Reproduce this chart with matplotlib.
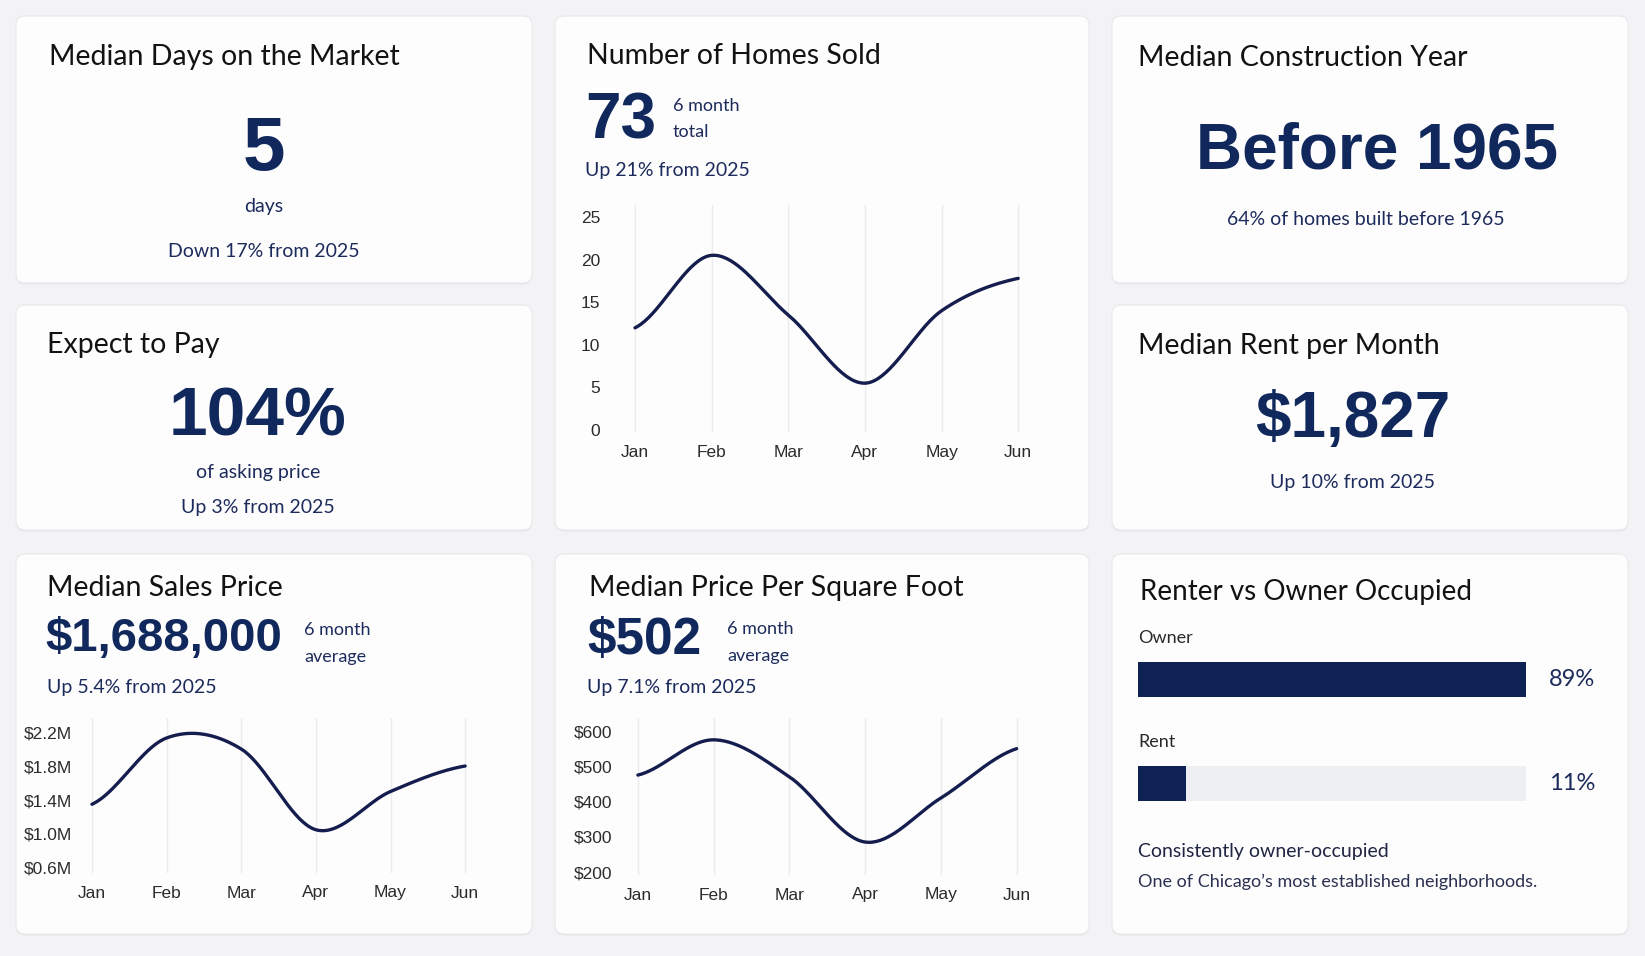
import numpy as np
import matplotlib
matplotlib.use("Agg")
from matplotlib import pyplot as plt
from matplotlib.patches import FancyBboxPatch

# ---- data ----
months = ["Jan", "Feb", "Mar", "Apr", "May", "Jun"]
homes_sold = [12, 20.5, 13.5, 5.5, 14, 17.8]
homes_ticks = [0, 5, 10, 15, 20, 25]
sales_price_m = [1.35, 2.13, 2.0, 1.05, 1.5, 1.8]
sales_ticks = [0.6, 1.0, 1.4, 1.8, 2.2]
price_sqft = [475, 575, 470, 285, 410, 550]
sqft_ticks = [200, 300, 400, 500, 600]
occ_labels = ["Owner", "Rent"]
occ_pct = [89, 11]

W, H = 1645, 956
NAVY = "#10285c"
SUB = "#1d2b5c"
LINE = "#141d4d"
TITLE = "#121212"
TICK = "#2b2b2b"
BODY = "Lato"
NUM = "Liberation Sans"

fig = plt.figure(figsize=(W / 100, H / 100), dpi=100)
fig.patch.set_facecolor("#f3f3f5")

bg = fig.add_axes([0, 0, 1, 1])
bg.set_xlim(0, W)
bg.set_ylim(H, 0)
bg.axis("off")


def card(x0, y0, x1, y1):
    sh = FancyBboxPatch((x0, y0 + 1.5), x1 - x0, y1 - y0,
                        boxstyle="round,pad=0,rounding_size=9",
                        fc="#000000", ec="none", alpha=0.05, zorder=1)
    bg.add_patch(sh)
    p = FancyBboxPatch((x0, y0), x1 - x0, y1 - y0,
                       boxstyle="round,pad=0,rounding_size=9",
                       fc="#fdfdfd", ec="#e9e9ec", lw=0.8, zorder=2)
    bg.add_patch(p)


def txt(x, y, s, size, color=SUB, ha="left", weight="normal", family=BODY):
    bg.text(x, y, s, fontsize=size, color=color, ha=ha, va="center",
            fontweight=weight, family=family, zorder=5)


def px_axes(left, top, right, bottom):
    return fig.add_axes([left / W, 1 - bottom / H, (right - left) / W, (bottom - top) / H])


def smooth(xs, ys, n=40):
    # catmull-rom through the points, only for drawing
    xs = np.asarray(xs, float)
    ys = np.asarray(ys, float)
    px, py = [], []
    for i in range(len(xs) - 1):
        y0 = ys[max(i - 1, 0)]
        y1, y2 = ys[i], ys[i + 1]
        y3 = ys[min(i + 2, len(ys) - 1)]
        t = np.linspace(0, 1, n, endpoint=False)
        seg = 0.5 * ((2 * y1) + (-y0 + y2) * t + (2 * y0 - 5 * y1 + 4 * y2 - y3) * t ** 2
                     + (-y0 + 3 * y1 - 3 * y2 + y3) * t ** 3)
        px.append(xs[i] + t * (xs[i + 1] - xs[i]))
        py.append(seg)
    px.append([xs[-1]])
    py.append([ys[-1]])
    return np.concatenate(px), np.concatenate(py)


def line_chart(ax, values, ticks, fmt, xlim, ylim, ypad):
    x = np.arange(len(values))
    sx, sy = smooth(x, values)
    ax.plot(sx, sy, color=LINE, lw=2.4, solid_capstyle="round", zorder=3)
    ax.set_xlim(*xlim)
    ax.set_ylim(*ylim)
    ax.set_xticks(x)
    ax.set_xticklabels(months)
    ax.set_yticks(ticks)
    ax.set_yticklabels([fmt(t) for t in ticks])
    ax.grid(axis="x", color="#ebebee", lw=1)
    ax.set_axisbelow(True)
    for s in ax.spines.values():
        s.set_visible(False)
    ax.tick_params(length=0, labelsize=12.5, colors=TICK)
    ax.tick_params(axis="y", pad=ypad)
    ax.tick_params(axis="x", pad=9)
    for lab in ax.get_xticklabels() + ax.get_yticklabels():
        lab.set_family(NUM)
    ax.patch.set_alpha(0)


# ---- cards ----
card(16, 16, 532, 283)
card(16, 305, 532, 530)
card(16, 554, 532, 934)
card(555, 16, 1089, 530)
card(555, 554, 1089, 934)
card(1112, 16, 1628, 283)
card(1112, 305, 1628, 530)
card(1112, 554, 1628, 934)

# Median days on market
txt(49, 57, "Median Days on the Market", 20.5, TITLE)
txt(264, 150, "5", 55, NAVY, ha="center", weight="bold", family=NUM)
txt(264, 206, "days", 14, SUB, ha="center")
txt(264, 251, "Down 17% from 2025", 14, SUB, ha="center")

# Expect to pay
txt(47, 345, "Expect to Pay", 20.5, TITLE)
txt(258, 418, "104%", 50, NAVY, ha="center", weight="bold", family=NUM)
txt(258, 472, "of asking price", 14, SUB, ha="center")
txt(258, 507, "Up 3% from 2025", 14, SUB, ha="center")

# Median sales price
txt(47, 588, "Median Sales Price", 20.5, TITLE)
txt(45, 639, "$1,688,000", 34, NAVY, weight="bold", family=NUM)
txt(304, 630, "6 month", 13, SUB)
txt(304, 657, "average", 13, SUB)
txt(47, 687, "Up 5.4% from 2025", 14, SUB)
ax_sales = px_axes(80, 718, 495, 873)
line_chart(ax_sales, sales_price_m, sales_ticks, lambda v: f"${v:.1f}M",
           (-0.16, 5.40), (0.541, 2.365), 5.5)

# Number of homes sold
txt(587, 56, "Number of Homes Sold", 20.5, TITLE)
txt(585, 121, "73", 46, NAVY, weight="bold", family=NUM)
txt(673, 106, "6 month", 13, SUB)
txt(673, 132, "total", 13, SUB)
txt(585, 170, "Up 21% from 2025", 14, SUB)
ax_homes = px_axes(612, 205, 1055, 432)
line_chart(ax_homes, homes_sold, homes_ticks, lambda v: f"{v}",
           (-0.30, 5.48), (-0.23, 26.41), 8.5)

# Median price per sq ft
txt(589, 588, "Median Price Per Square Foot", 20.5, TITLE)
txt(587, 640, "$502", 37, NAVY, weight="bold", family=NUM)
txt(727, 629, "6 month", 13, SUB)
txt(727, 656, "average", 13, SUB)
txt(587, 687, "Up 7.1% from 2025", 14, SUB)
ax_sqft = px_axes(625, 718, 1050, 875)
line_chart(ax_sqft, price_sqft, sqft_ticks, lambda v: f"${v}",
           (-0.17, 5.44), (191.5, 636.9), 9.0)

# Median construction year
txt(1138, 58, "Median Construction Year", 20.5, TITLE)
txt(1377, 151, "Before 1965", 46, NAVY, ha="center", weight="bold", family=NUM)
txt(1366, 219, "64% of homes built before 1965", 14, SUB, ha="center")

# Median rent
txt(1138, 346, "Median Rent per Month", 20.5, TITLE)
txt(1353, 420, "$1,827", 46, NAVY, ha="center", weight="bold", family=NUM)
txt(1353, 482, "Up 10% from 2025", 14, SUB, ha="center")

# Renter vs owner
txt(1140, 592, "Renter vs Owner Occupied", 20, TITLE)
ax_occ = px_axes(1138, 655, 1526, 805)
ypos = np.arange(len(occ_pct))
top = max(occ_pct)
ax_occ.barh(ypos, [top] * len(occ_pct), height=0.33, color="#eeeff2", zorder=1)
ax_occ.barh(ypos, occ_pct, height=0.33, color="#0e2353", zorder=2)
ax_occ.set_xlim(0, top)
ax_occ.set_ylim(1.207, -0.236)
ax_occ.axis("off")
for i, (lab, v) in enumerate(zip(occ_labels, occ_pct)):
    ax_occ.text(0, i - 0.40, lab, fontsize=13, color="#2a2a2a", va="center",
                family=BODY, clip_on=False)
    ax_occ.annotate(f"{v}%", (top, i), xytext=(23, 0), textcoords="offset pixels",
                    fontsize=17, color=SUB, va="center", family=BODY)
txt(1138, 852, "Consistently owner-occupied", 14, "#1f2542")
txt(1138, 882, "One of Chicago\u2019s most established neighborhoods.", 13, "#2a3050")

fig.savefig("out.png", dpi=100, facecolor=fig.get_facecolor())
